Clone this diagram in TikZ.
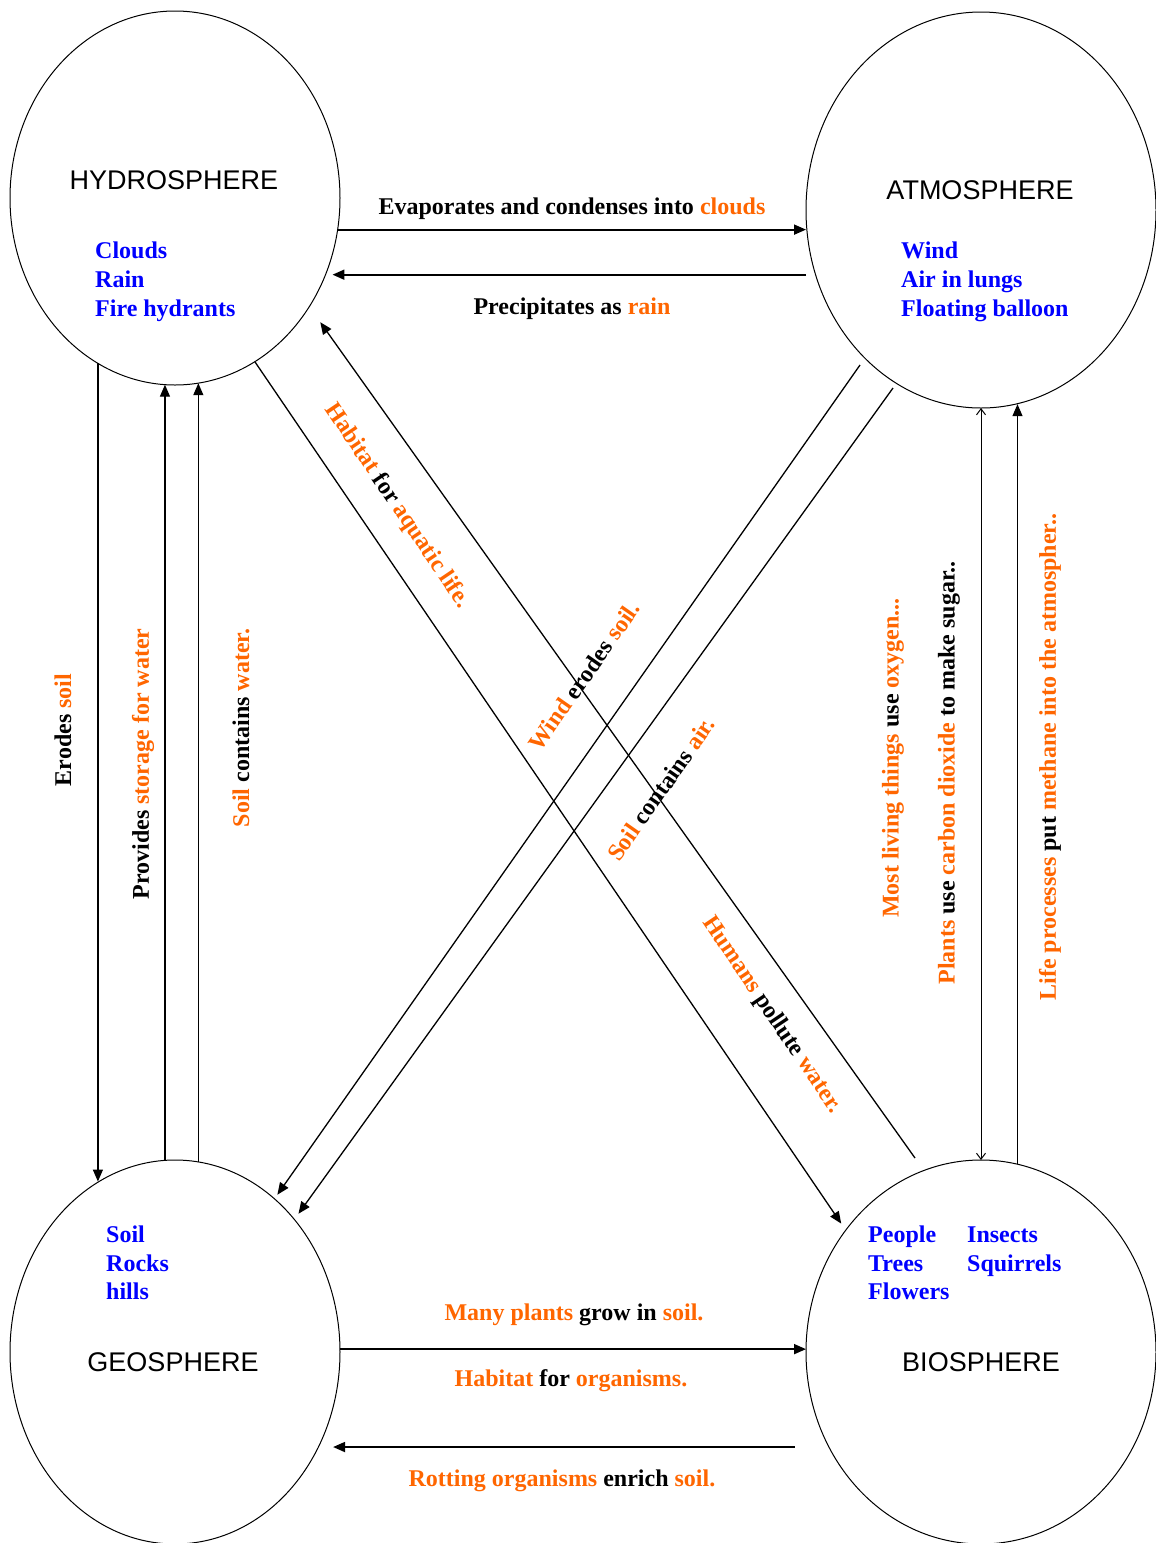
\documentclass[tikz,border=0pt]{standalone}
\usepackage{fontspec}
\setmainfont{Liberation Serif}
\newfontfamily\headfont{Liberation Sans}
\usetikzlibrary{shapes.geometric,arrows.meta}
\definecolor{org}{HTML}{FF6600}
\definecolor{itemblue}{HTML}{0000FF}
\newcommand{\og}[1]{\textcolor{org}{#1}}
\begin{document}
\begin{tikzpicture}[x=1pt,y=-1pt,
  sphere/.style={draw, ellipse, line width=1pt, inner sep=0pt, outer sep=0pt},
  head/.style={font=\headfont\fontsize{27}{30}\selectfont, inner sep=0pt},
  item/.style={font=\bfseries\fontsize{24}{28}\selectfont, text=itemblue, anchor=west, inner sep=0pt, text height=16pt, text depth=5pt},
  lbl/.style={font=\bfseries\fontsize{24}{27}\selectfont, inner sep=0pt},
  conn/.style={line width=1.3pt, -{Triangle[length=12pt,width=10pt]}},
  hconn/.style={line width=1.8pt, -{Triangle[length=12pt,width=10pt]}},
  biconn/.style={line width=1pt, {Straight Barb[length=6pt,width=9pt]}-{Straight Barb[length=6pt,width=9pt]}},
]
\useasboundingbox (0,0) rectangle (1156,1543);
\fill[white] (0,0) rectangle (1156,1543);

% spheres
\node[sphere, minimum width=330pt, minimum height=374pt] (hyd) at (175,198) {};
\node[sphere, minimum width=350pt, minimum height=396pt] (atm) at (981,210) {};
\node[sphere, minimum width=330pt, minimum height=384pt] (geo) at (175,1352) {};
\node[sphere, minimum width=350pt, minimum height=384pt] (bio) at (981,1352) {};

% headings
\node[head] (hHyd) at (174,180) {HYDROSPHERE};
\node[head] (hAtm) at (980,190) {ATMOSPHERE};
\node[head] (hGeo) at (173,1362) {GEOSPHERE};
\node[head] (hBio) at (981,1362) {BIOSPHERE};

% item lists
\node[item] (iClouds) at (95,253) {Clouds};
\node[item] (iRain) at (95,282) {Rain};
\node[item] (iFire) at (95,311) {Fire hydrants};
\node[item] (iWind) at (901,253) {Wind};
\node[item] (iAir) at (901,282) {Air in lungs};
\node[item] (iBall) at (901,311) {Floating balloon};
\node[item] (iSoil) at (106,1237) {Soil};
\node[item] (iRocks) at (106,1266) {Rocks};
\node[item] (iHills) at (106,1294) {hills};
\node[item] (iPeople) at (868,1237) {People};
\node[item] (iTrees) at (868,1266) {Trees};
\node[item] (iFlowers) at (868,1294) {Flowers};
\node[item] (iInsects) at (967,1237) {Insects};
\node[item] (iSquir) at (967,1266) {Squirrels};

% free tails
\coordinate (bTail) at (915,1158);
\coordinate (cTail) at (860,365);
\coordinate (dTail) at (893,388);

% horizontal connectors
\draw[hconn] (hyd.-11.5) -- (hyd.-11.5 -| atm.west);
\draw[hconn, shorten >=7pt] (atm.west |- hyd.-27.1) -- (hyd.-27.1);
\draw[hconn] (geo.1.74) -- (geo.1.74 -| bio.west);
\draw[hconn, shorten <=34pt, shorten >=14pt] (bio.-148.4) -- (bio.-148.4 -| geo.-33.15);

% vertical connectors
\draw[conn] (hyd.-115.33) -- (hyd.-115.33 |- geo.114.75);
\draw[conn] (geo.93.29) -- (geo.93.29 |- hyd.-93.37);
\draw[conn] (geo.83.41) -- (geo.83.41 |- hyd.-83.23);
\draw[biconn] (bio.north) -- (atm.south);
\draw[conn] (bio.79.77) -- (bio.79.77 |- atm.-80.07);

% diagonal connectors
\draw[conn, shorten >=8pt] (hyd.-64.4) -- (bio.138.4);
\draw[conn, shorten >=19pt] (bTail) -- (hyd.-39);
\draw[conn, shorten >=5pt] (cTail) -- (geo.57.3);
\draw[conn, shorten >=7pt] (dTail) -- (geo.48);

% labels
\node[lbl] (lEvap) at (572,209) {Evaporates and condenses into \og{clouds}};
\node[lbl] (lPrec) at (572,309) {Precipitates as \og{rain}};
\node[lbl, rotate=90] (lErod) at (63,730) {Erodes \og{soil}};
\node[lbl, rotate=90] (lProv) at (143,764) {Provides \og{storage for water}};
\node[lbl, rotate=90] (lSoilW) at (241,728) {\og{Soil} contains \og{water.}};
\node[lbl, rotate=-56] (lHab) at (397,506) {\og{Habitat} for \og{aquatic life.}};
\node[lbl, rotate=55] (lWind) at (584,676) {\og{Wind} erodes \og{soil.}};
\node[lbl, rotate=55] (lSoilA) at (661,789) {\og{Soil} contains \og{air.}};
\node[lbl, rotate=-56] (lHum) at (772,1015) {\og{Humans} pollute \og{water.}};
\node[lbl, rotate=90] (lMost) at (893,758) {\og{Most living things} use \og{oxygen...}};
\node[lbl, rotate=90] (lPlants) at (949,773) {\og{Plants} use \og{carbon dioxide} to make sugar..};
\node[lbl, rotate=90] (lLife) at (1050,757) {\og{Life processes} put \og{methane into the atmospher..}};
\node[lbl] (lMany) at (574,1315) {\og{Many plants} grow in \og{soil.}};
\node[lbl] (lHabO) at (571,1381) {\og{Habitat} for \og{organisms.}};
\node[lbl] (lRot) at (562,1481) {\og{Rotting organisms} enrich \og{soil.}};
\end{tikzpicture}
\end{document}
